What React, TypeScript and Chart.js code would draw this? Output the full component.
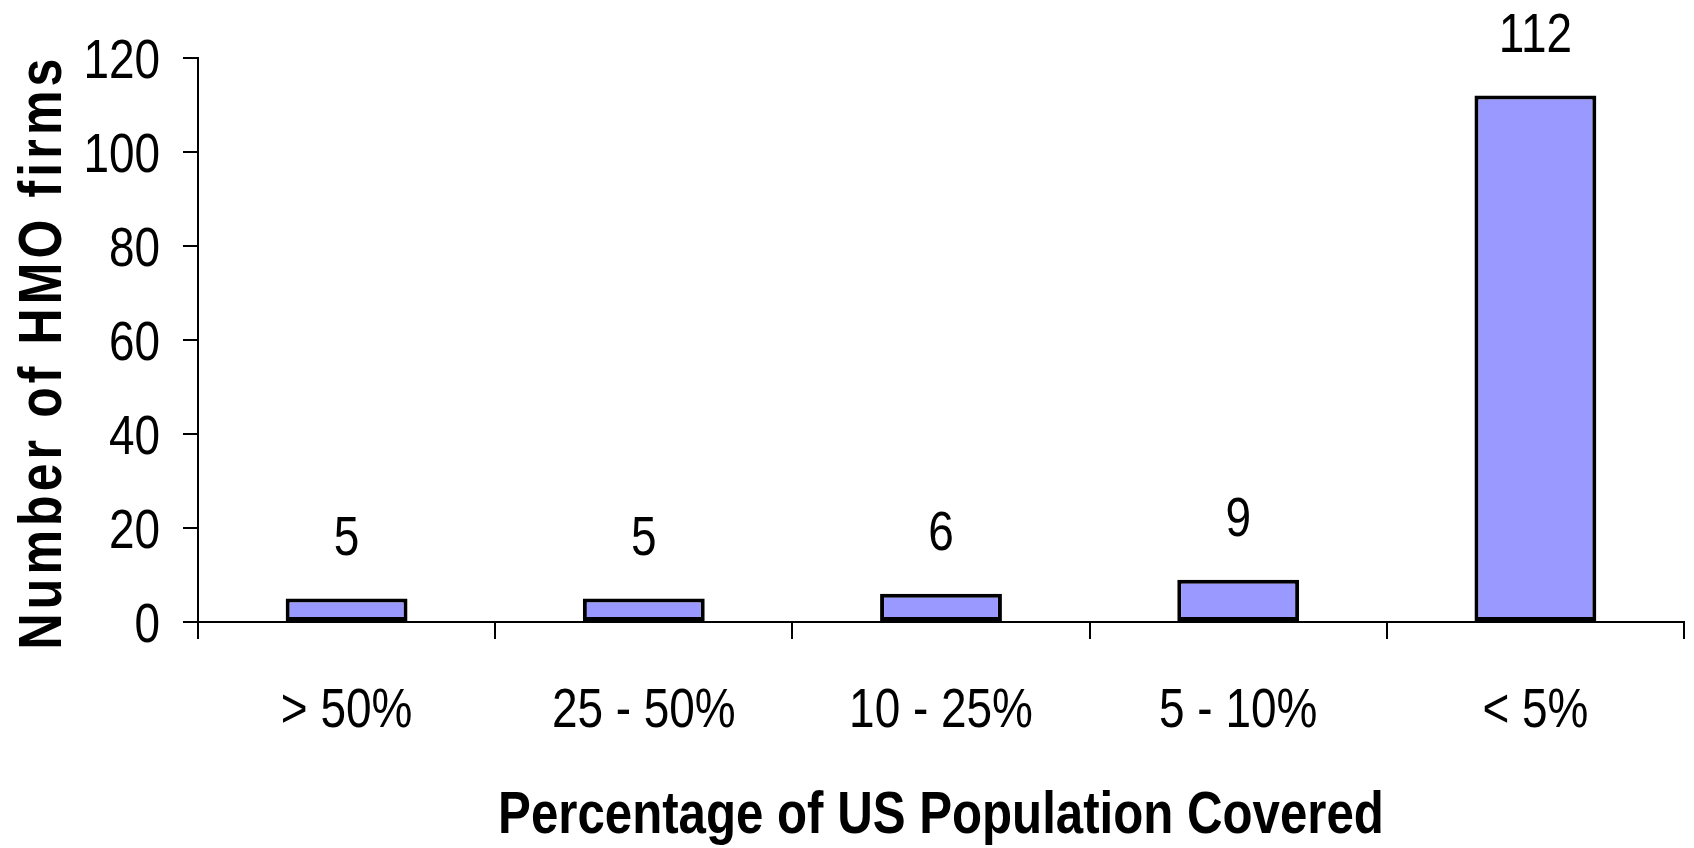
import React, { useEffect, useRef } from "react";
import { Chart, registerables } from "chart.js";

Chart.register(...registerables);

// Share of the US population covered by each HMO firm, grouped into bands
const categories = ["> 50%", "25 - 50%", "10 - 25%", "5 - 10%", "< 5%"];
const firmCounts = [5, 5, 6, 9, 112];
const yTicks = [0, 20, 40, 60, 80, 100, 120];
const xTitle = "Percentage of US Population Covered";
const yTitle = "Number of HMO firms";

const SANS = '"Liberation Sans", Arial, sans-serif';
const SQUEEZE = 0.82; // horizontal compression giving a narrow face
const BAR_FILL = "#9999FF";
const INK = "#000000";

// Draws text squeezed along its own direction
function drawNarrow(
  ctx: CanvasRenderingContext2D,
  text: string,
  x: number,
  y: number,
  align: CanvasTextAlign
) {
  ctx.save();
  ctx.translate(x, y);
  ctx.scale(SQUEEZE, 1);
  ctx.textAlign = align;
  ctx.textBaseline = "alphabetic";
  ctx.fillText(text, 0, 0);
  ctx.restore();
}

// Writes each bar's count above it
const valueLabels = {
  id: "valueLabels",
  afterDatasetsDraw(chart: any) {
    const ctx = chart.ctx;
    const meta = chart.getDatasetMeta(0);
    ctx.save();
    ctx.font = `56px ${SANS}`;
    ctx.fillStyle = INK;
    meta.data.forEach((bar: any, i: number) => {
      drawNarrow(ctx, String(firmCounts[i]), bar.x, bar.y - 44, "center");
    });
    ctx.restore();
  },
};

// Tick labels and axis titles in the narrow face
const axisText = {
  id: "axisText",
  afterDraw(chart: any) {
    const { ctx, chartArea, scales } = chart;
    const xs = scales.x;
    const ys = scales.y;
    ctx.save();
    ctx.fillStyle = INK;

    ctx.font = `56px ${SANS}`;
    ys.ticks.forEach((t: any, i: number) => {
      drawNarrow(ctx, String(t.value), chartArea.left - 38, ys.getPixelForTick(i) + 20, "right");
    });
    categories.forEach((label, i) => {
      drawNarrow(ctx, label, xs.getPixelForValue(i), chartArea.bottom + 105, "center");
    });

    ctx.font = `bold 60px ${SANS}`;
    drawNarrow(ctx, xTitle, (chartArea.left + chartArea.right) / 2, chartArea.bottom + 211, "center");

    ctx.save();
    ctx.font = `bold 61px ${SANS}`;
    (ctx as any).letterSpacing = "5px";
    ctx.translate(chartArea.left - 137, (chartArea.top + chartArea.bottom) / 2 + 12);
    ctx.rotate(-Math.PI / 2);
    drawNarrow(ctx, yTitle, 0, 0, "center");
    ctx.restore();

    ctx.restore();
  },
};

export default function App() {
  const canvasRef = useRef<HTMLCanvasElement | null>(null);

  useEffect(() => {
    const canvas = canvasRef.current;
    if (!canvas) return;
    const chart = new Chart(canvas, {
      type: "bar",
      data: {
        labels: categories,
        datasets: [
          {
            data: firmCounts,
            backgroundColor: BAR_FILL,
            borderColor: INK,
            borderWidth: 4,
            borderSkipped: false,
            barPercentage: 0.41,
            categoryPercentage: 1,
          },
        ],
      },
      options: {
        animation: false,
        responsive: true,
        maintainAspectRatio: false,
        layout: { padding: { left: 0, right: 10, top: 58, bottom: 0 } },
        plugins: {
          legend: { display: false },
          tooltip: { enabled: false },
          title: { display: false },
        },
        scales: {
          x: {
            offset: true,
            grid: {
              offset: true,
              drawOnChartArea: false,
              drawTicks: true,
              tickLength: 17,
              color: INK,
              lineWidth: 2,
            },
            border: { display: true, color: INK, width: 2 },
            ticks: { display: false, autoSkip: false, maxRotation: 0 },
            afterFit(scale: any) {
              scale.height = 226;
            },
          },
          y: {
            min: 0,
            max: 120,
            afterBuildTicks(scale: any) {
              scale.ticks = yTicks.map((v) => ({ value: v }));
            },
            grid: {
              drawOnChartArea: false,
              drawTicks: true,
              tickLength: 15,
              color: INK,
              lineWidth: 2,
            },
            border: { display: true, color: INK, width: 2 },
            ticks: { display: false },
            afterFit(scale: any) {
              scale.width = 198;
            },
          },
        },
      },
      plugins: [valueLabels, axisText],
    });
    return () => chart.destroy();
  }, []);

  return (
    <div
      style={{
        position: "fixed",
        left: 0,
        top: 0,
        width: "100vw",
        height: "100vh",
        background: "#ffffff",
      }}
    >
      <canvas ref={canvasRef} />
    </div>
  );
}
